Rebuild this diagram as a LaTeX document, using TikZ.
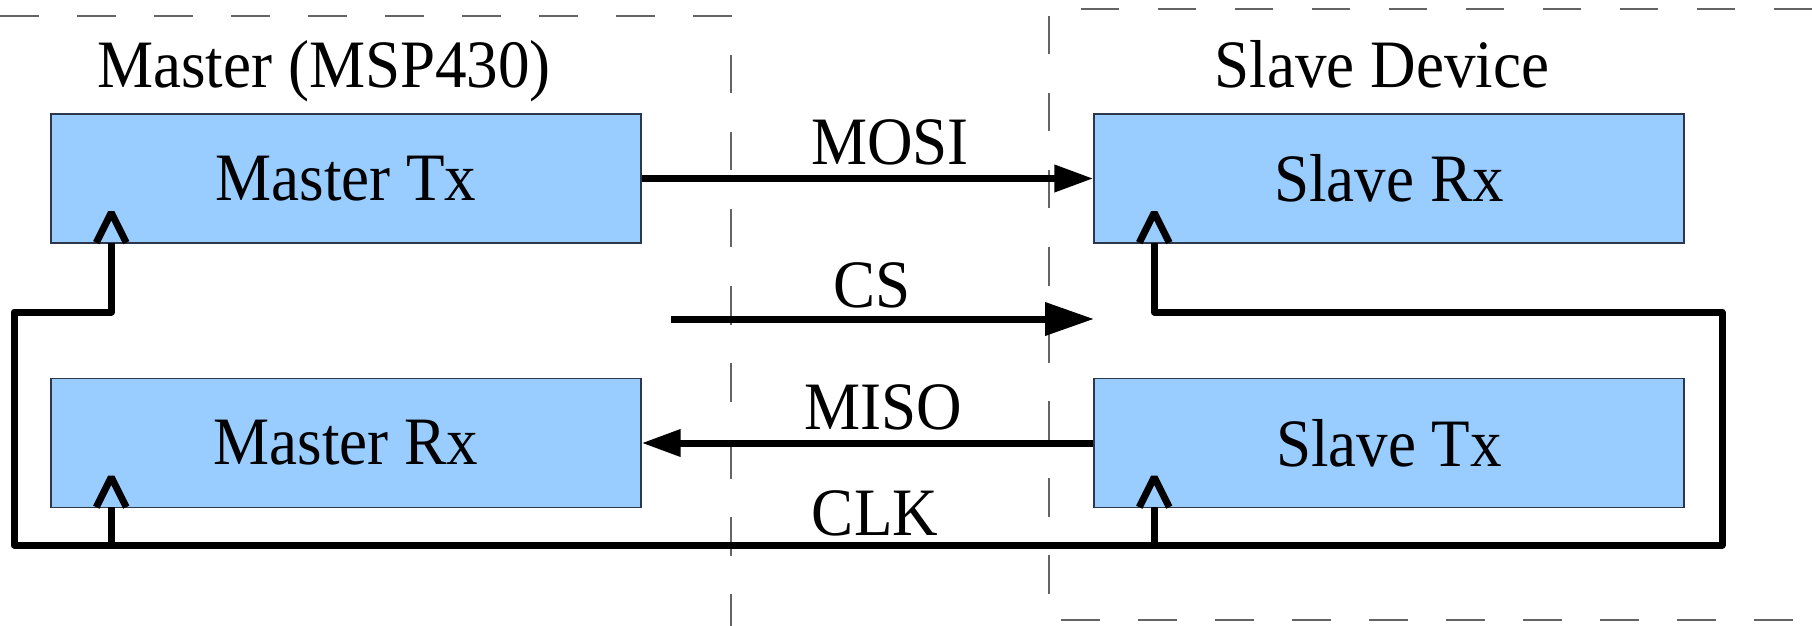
\documentclass[tikz,border=0pt]{standalone}
\usepackage{fontspec}
\setmainfont[FakeStretch=0.93]{Liberation Serif}
\usetikzlibrary{arrows.meta}

% Open chevron tip whose shaft stops at the back of the tip
\pgfdeclarearrow{
  name = Chev,
  parameters = {\the\pgfarrowlength,\the\pgfarrowwidth},
  setup code = {
    \pgfarrowssettipend{0pt}
    \pgfarrowssetlineend{-\pgfarrowlength}
    \pgfarrowssetbackend{-\pgfarrowlength}
    \pgfarrowshullpoint{0pt}{0pt}
    \pgfarrowsupperhullpoint{-\pgfarrowlength}{.5\pgfarrowwidth}
    \pgfarrowssavethe\pgfarrowlength
    \pgfarrowssavethe\pgfarrowwidth
  },
  drawing code = {
    \pgfsetdash{}{0pt}
    \pgfsetbeveljoin
    \pgfsetbuttcap
    \pgfpathmoveto{\pgfqpoint{-\pgfarrowlength}{.5\pgfarrowwidth}}
    \pgfpathlineto{\pgfpointorigin}
    \pgfpathlineto{\pgfqpoint{-\pgfarrowlength}{-.5\pgfarrowwidth}}
    \pgfusepathqstroke
  },
  defaults = {length=15pt, width=15pt}
}

\definecolor{boxfill}{RGB}{153,204,255}
\definecolor{boxline}{RGB}{45,55,75}
\definecolor{framegray}{RGB}{100,100,100}

\begin{document}
\begin{tikzpicture}[x=0.5pt,y=-0.5pt,
  font=\fontsize{33.9}{40}\selectfont,
  unit/.style={draw=boxline, line width=0.7pt, fill=boxfill,
    minimum width=295pt, minimum height=64.5pt, inner sep=0pt},
  frame/.style={draw=framegray, line width=0.6pt,
    dash pattern=on 19.25pt off 19.25pt},
  wire/.style={line width=3.5pt, line join=round},
  sig/.style={wire, -{Triangle[length=19.5pt,width=13pt]}},
  bigsig/.style={wire, -{Triangle[length=24.5pt,width=16pt]}},
  lbl/.style={anchor=base, inner sep=0pt},
]
\useasboundingbox (0,0) rectangle (1812,626);

% device frames
\draw[frame] (0,16) -- (731,16) -- (731,626);
\draw[frame] (1812,9) -- (1049,9) -- (1049,620) -- (1812,620);

% titles
\node[lbl] (mtitle) at (324,88) {Master (MSP430)};
\node[lbl] (stitle) at (1382,88) {Slave Device};

% functional blocks
\node[unit] (mtx) at (346,178.5) {Master Tx};
\node[unit] (mrx) at (346,443) {Master Rx};
\node[unit] (srx) at (1389,178.5) {Slave Rx};
\node[unit] (stx) at (1389,443) {Slave Tx};

% data lines
\draw[sig] (mtx.east) -- (srx.west);
\draw[sig] (stx.west) -- (mrx.east);
\coordinate (csA) at (671,319);
\coordinate (csB) at (1094,319);
\draw[bigsig] (csA) -- (csB);

\node[lbl] (mosiL) at (890,165) {MOSI};
\node[lbl] (csL)   at (872,307) {CS};
\node[lbl] (misoL) at (883,429) {MISO};
\node[lbl] (clkL)  at (875,535) {CLK};

% clock distribution
\coordinate (mtxIn) at ([xshift=30.5pt,yshift=15.5pt]mtx.south west);
\coordinate (mrxIn) at ([xshift=30.5pt,yshift=15.5pt]mrx.south west);
\coordinate (srxIn) at ([xshift=30.5pt,yshift=15.5pt]srx.south west);
\coordinate (stxIn) at ([xshift=30.5pt,yshift=15.5pt]stx.south west);
\coordinate (busTop) at (0,312);
\coordinate (busBot) at (0,545);
\coordinate (busL) at (14,0);
\coordinate (busR) at (1722,0);

\draw[wire, {Chev}-{Chev}] (mtxIn) -- (mtxIn |- busTop) -- (busL |- busTop)
  -- (busL |- busBot) -- (busR |- busBot) -- (busR |- busTop)
  -- (srxIn |- busTop) -- (srxIn);
\draw[wire, -{Chev}] (mrxIn |- busBot) -- (mrxIn);
\draw[wire, -{Chev}] (stxIn |- busBot) -- (stxIn);
\end{tikzpicture}
\end{document}
